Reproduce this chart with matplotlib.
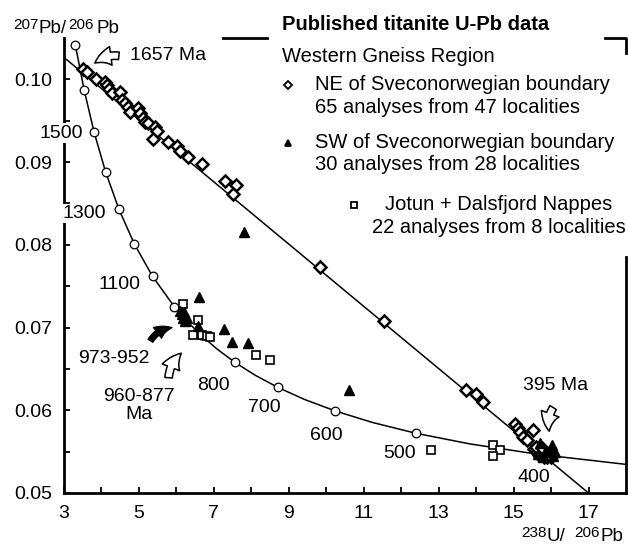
import matplotlib.pyplot as plt
from matplotlib.patches import FancyArrowPatch

plt.rcParams['font.family'] = ['Liberation Sans', 'DejaVu Sans']

W, H = 628, 545

# concordia marks every 100 Ma (238U/206Pb, 207Pb/206Pb)
conc_age = [400, 500, 600, 700, 800, 900, 1000, 1100, 1200, 1300, 1400, 1500, 1600, 1700]
conc_x = [15.621, 12.399, 10.252, 8.718, 7.568, 6.674, 5.959, 5.374, 4.887, 4.476, 4.123, 3.817, 3.550, 3.314]
conc_y = [0.05470, 0.05722, 0.05991, 0.06276, 0.06580, 0.06905, 0.07250, 0.07619, 0.08012, 0.08432,
          0.08881, 0.09360, 0.09872, 0.10419]

# concordia line (350-1700 Ma)
curve_x = [18.0, 15.621, 13.831, 12.399, 11.228, 10.252, 9.426, 8.718, 8.105, 7.568, 7.095, 6.674,
           6.298, 5.959, 5.374, 4.887, 4.476, 4.123, 3.817, 3.550, 3.314]
curve_y = [0.05346, 0.05470, 0.05594, 0.05722, 0.05854, 0.05991, 0.06131, 0.06276, 0.06425, 0.06580,
           0.06740, 0.06905, 0.07074, 0.07250, 0.07619, 0.08012, 0.08432, 0.08881, 0.09360, 0.09872, 0.10419]

# discordia 1657 - 395 Ma
disc_x = [3.0, 17.0]
disc_y = [0.1027, 0.0500]

ne_x = [3.53, 3.62, 3.87, 4.11, 4.15, 4.22, 4.29, 4.51, 4.55, 4.64, 4.73, 4.77, 4.99, 5.04, 5.11, 5.17,
        5.26, 5.44, 5.49, 5.39, 5.79, 6.02, 6.11, 6.33, 6.69, 7.31, 7.60, 7.53, 9.84, 11.55, 13.73, 14.00,
        14.19, 15.04, 15.13, 15.17, 15.26, 15.35, 15.53, 15.55, 15.62, 15.68, 15.72, 15.80, 15.85, 15.90,
        15.95, 16.00, 15.60, 15.75]
ne_y = [0.1012, 0.1009, 0.1000, 0.0997, 0.0993, 0.0988, 0.0984, 0.0985, 0.0975, 0.0971, 0.0967, 0.0961,
        0.0965, 0.0959, 0.0953, 0.0949, 0.0947, 0.0942, 0.0938, 0.0928, 0.0924, 0.0920, 0.0914, 0.0906,
        0.0898, 0.0877, 0.0872, 0.0862, 0.0773, 0.0708, 0.0625, 0.0620, 0.0610, 0.0584, 0.0578, 0.0574,
        0.0568, 0.0564, 0.0576, 0.0553, 0.0549, 0.0546, 0.0551, 0.0544, 0.0548, 0.0543, 0.0546, 0.0544,
        0.0556, 0.0555]

sw_x = [7.82, 6.61, 6.15, 6.19, 6.24, 6.10, 6.20, 6.28, 6.59, 7.28, 7.50, 7.91, 10.62, 15.71, 16.02,
        15.85, 15.95, 16.05, 15.65, 15.78, 16.10]
sw_y = [0.0815, 0.0737, 0.0716, 0.0712, 0.0708, 0.0720, 0.0719, 0.0712, 0.0702, 0.0698, 0.0683, 0.0681,
        0.0625, 0.0560, 0.0558, 0.0550, 0.0549, 0.0545, 0.0547, 0.0543, 0.0550]

jd_x = [6.19, 6.59, 6.46, 6.69, 6.82, 6.91, 8.13, 8.51, 12.80, 14.46, 14.64, 14.45]
jd_y = [0.0729, 0.0709, 0.0691, 0.0691, 0.0690, 0.0688, 0.0667, 0.0661, 0.0552, 0.0558, 0.0552, 0.0545]


def fp(x, y):
    return x / W, 1 - y / H


fig = plt.figure(figsize=(W / 100, H / 100), dpi=100)
ax = fig.add_axes([63.5 / W, (H - 493) / H, 562.5 / W, 455 / H])

ax.plot(curve_x, curve_y, c='black', lw=1.1, zorder=2)
ax.plot(disc_x, disc_y, c='black', lw=1.1, zorder=2)
ax.plot(conc_x, conc_y, ls='none', marker='o', ms=6.2, mfc='white', mec='black', mew=0.9, zorder=3)

ax.plot(jd_x, jd_y, ls='none', marker='s', ms=6.3, mfc='white', mec='black', mew=1.2, zorder=4)
ax.plot(ne_x, ne_y, ls='none', marker='D', ms=6.3, mfc='white', mec='black', mew=1.8, zorder=5)
ax.plot(sw_x, sw_y, ls='none', marker='^', ms=7, mfc='black', mec='black', zorder=6)

ax.set_xlim(3, 18)
ax.set_ylim(0.05, 0.105)
ax.set_xticks([3, 5, 7, 9, 11, 13, 15, 17])
ax.set_xticks([4, 6, 8, 10, 12, 14, 16], minor=True)
ax.set_yticks([0.05, 0.06, 0.07, 0.08, 0.09, 0.10])
ax.set_yticklabels(['0.05', '0.06', '0.07', '0.08', '0.09', '0.10'])
ax.set_yticks([0.055, 0.065, 0.075, 0.085, 0.095], minor=True)
ax.tick_params(which='both', direction='in', width=1.3, labelsize=14)
ax.tick_params(which='major', length=4.5)
ax.tick_params(which='minor', length=4)
ax.tick_params(axis='x', pad=9)
ax.tick_params(axis='y', pad=8)

for s in ['top', 'right']:
    ax.spines[s].set_visible(False)
for s in ['left', 'bottom']:
    ax.spines[s].set_linewidth(2)

# broken frame around the legend
ax.plot([0.2836, 0.3618], [1, 1], transform=ax.transAxes, c='black', lw=2, clip_on=False)
ax.plot([0.9627, 1.0, 1.0], [1, 1, 0.967], transform=ax.transAxes, c='black', lw=2, clip_on=False)
ax.plot([1.0, 1.0], [0.5187, 0], transform=ax.transAxes, c='black', lw=2, clip_on=False)

wb = dict(facecolor='white', edgecolor='none', pad=1)
fs = 14
ax.text(3.52, 0.0935, '1500', fontsize=fs, ha='right', va='center', bbox=wb, zorder=7)
ax.text(4.13, 0.0838, '1300', fontsize=fs, ha='right', va='center', bbox=wb, zorder=7)
ax.text(5.04, 0.0752, '1100', fontsize=fs, ha='right', va='center')
ax.text(7.01, 0.0630, '800', fontsize=fs, ha='center', va='center')
ax.text(8.35, 0.0603, '700', fontsize=fs, ha='center', va='center')
ax.text(10.01, 0.0570, '600', fontsize=fs, ha='center', va='center')
ax.text(11.95, 0.0548, '500', fontsize=fs, ha='center', va='center')
ax.text(15.55, 0.0519, '400', fontsize=fs, ha='center', va='center')
ax.text(4.77, 0.1029, '1657 Ma', fontsize=fs, ha='left', va='center')
ax.text(16.11, 0.0630, '395 Ma', fontsize=fs, ha='center', va='center')
ax.text(4.35, 0.0663, '973-952', fontsize=fs, ha='center', va='center')
ax.text(5.02, 0.0606, '960-877\nMa', fontsize=fs, ha='center', va='center', linespacing=1.1)

open_arrow = dict(arrowstyle='simple,head_length=0.7,head_width=0.75,tail_width=0.3',
                  fc='white', ec='black', lw=1.1, mutation_scale=18)
ax.add_patch(FancyArrowPatch((4.55, 0.10280), (3.78, 0.10175), connectionstyle='arc3,rad=0.25',
                             zorder=7, **open_arrow))
ax.add_patch(FancyArrowPatch((5.80, 0.0636), (6.20, 0.0671), connectionstyle='arc3,rad=-0.25',
                             zorder=7, **open_arrow))
ax.add_patch(FancyArrowPatch((16.10, 0.06060), (15.97, 0.05715), connectionstyle='arc3,rad=0.25',
                             zorder=7, **open_arrow))
ax.add_patch(FancyArrowPatch((5.28, 0.06810), (5.97, 0.07000), connectionstyle='arc3,rad=-0.3',
                             arrowstyle='simple,head_length=0.8,head_width=0.7,tail_width=0.3',
                             fc='black', ec='black', lw=0.8, mutation_scale=14, zorder=7))

# axis titles
fig.text(*fp(13, 29), '207', fontsize=11, va='baseline')
fig.text(*fp(39, 33), 'Pb/', fontsize=13.5, va='baseline')
fig.text(*fp(68, 29), '206', fontsize=11, va='baseline')
fig.text(*fp(96, 33), 'Pb', fontsize=13.5, va='baseline')
fig.text(*fp(521, 537), '238', fontsize=11, va='baseline')
fig.text(*fp(547, 541), 'U/', fontsize=13.5, va='baseline')
fig.text(*fp(574, 537), '206', fontsize=11, va='baseline')
fig.text(*fp(600, 541), 'Pb', fontsize=13.5, va='baseline')

# legend
fig.text(*fp(282, 25), 'Published titanite U-Pb data', fontsize=14.5, fontweight='bold', va='center')
fig.text(*fp(282, 57), 'Western Gneiss Region', fontsize=14.5, va='center')
fig.text(*fp(315, 85), 'NE of Sveconorwegian boundary', fontsize=14.5, va='center')
fig.text(*fp(315, 107), '65 analyses from 47 localities', fontsize=14.5, va='center')
fig.text(*fp(315, 142), 'SW of Sveconorwegian boundary', fontsize=14.5, va='center')
fig.text(*fp(315, 164), '30 analyses from 28 localities', fontsize=14.5, va='center')
fig.text(*fp(385, 204), 'Jotun + Dalsfjord Nappes', fontsize=14.5, va='center')
fig.text(*fp(372, 227), '22 analyses from 8 localities', fontsize=14.5, va='center')
for (mx, my), mk, fc in [((288, 85), 'D', 'white'), ((288, 143), '^', 'black'), ((354, 205), 's', 'white')]:
    xf, yf = fp(mx, my)
    ax.plot([xf], [yf], transform=fig.transFigure, marker=mk, ms=4.5, mfc=fc, mec='black', mew=1.3,
            clip_on=False)

plt.savefig('out.png', dpi=100)
